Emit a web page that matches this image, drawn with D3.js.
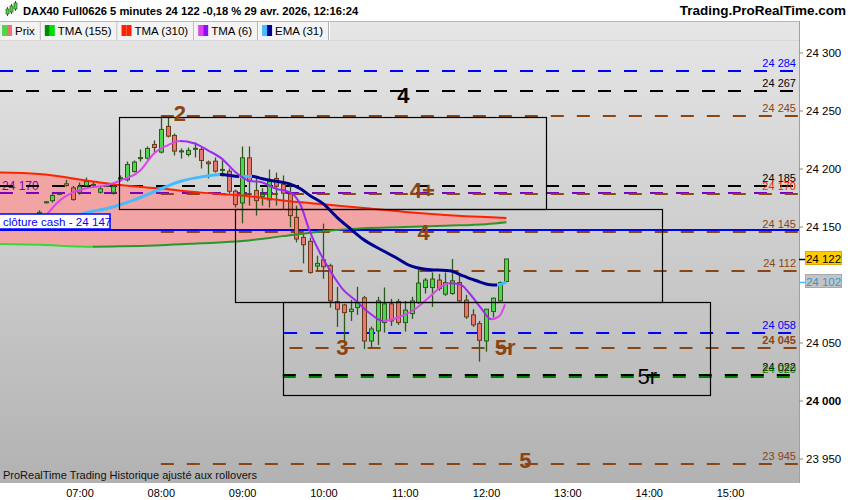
<!DOCTYPE html>
<html><head><meta charset="utf-8">
<script src="https://cdn.jsdelivr.net/npm/d3@7"></script>
<style>
body{margin:0;background:#fff;}
svg{display:block;font-family:"Liberation Sans",Arial,sans-serif;}
</style>
</head><body>
<svg id="c" width="850" height="500"></svg>
<script>
// ---------------- DATA ----------------
const times = ["06:30","06:35","06:40","06:45","06:50","06:55","07:00","07:05","07:10","07:15",
"07:20","07:25","07:30","07:35","07:40","07:45","07:50","07:55","08:00","08:05",
"08:10","08:15","08:20","08:25","08:30","08:35","08:40","08:45","08:50","08:55",
"09:00","09:05","09:10","09:15","09:20","09:25","09:30","09:35","09:40","09:45",
"09:50","09:55","10:00","10:05","10:10","10:15","10:20","10:25","10:30","10:35",
"10:40","10:45","10:50","10:55","11:00","11:05","11:10","11:15","11:20","11:25",
"11:30","11:35","11:40","11:45","11:50","11:55","12:00","12:05","12:10","12:15"];
const open  = [24161,24171,24172.3,24178,24186.8,24183.3,24179.5,24185.3,24186,24179.5,
24185.2,24179.5,24191.8,24190.2,24197.4,24209,24208.9,24220.7,24214.1,24236.3,
24228.5,24215,24212.1,24217.2,24216.4,24205.5,24206.3,24199,24197.7,24180.4,
24170.3,24209.2,24181,24176,24173,24191.4,24186.2,24178.1,24157.9,24140.6,
24137.2,24115.9,24121.3,24116.2,24085.3,24082.4,24076.7,24080.1,24088.5,24051.3,
24060,24067.2,24083.3,24085.3,24067.2,24074.9,24084.4,24097.4,24097.4,24103.8,
24091.7,24092.2,24101.7,24086.5,24073.8,24066.3,24051.3,24076.7,24085.9,24102.6];
const high  = [24164,24172,24178.4,24179,24190.2,24185,24187.9,24192.2,24188.8,24184.4,
24187,24186.2,24194,24206,24206.9,24216.4,24219,24224.2,24244.1,24244.1,
24230.2,24217.3,24218.1,24222.5,24218.1,24206.9,24209.5,24208.6,24200,24181.8,
24219,24219,24191.4,24183,24199.1,24196.5,24194,24187,24168,24143.8,
24140.4,24124.8,24152.5,24117.9,24098,24083.3,24086.8,24098,24090.2,24063.7,
24089.4,24097.4,24087.6,24087.6,24085.9,24089.4,24114.2,24105.5,24110.4,24109,
24110.4,24122,24109,24091.1,24078.7,24068.6,24079,24088.8,24102.6,24122];
const low   = [24159,24170,24170.6,24177,24184.4,24172.3,24177.5,24184.4,24183.6,24178.4,
24184,24177.5,24188.8,24188.8,24196.5,24206,24207.8,24213.8,24213,24226.8,
24211.2,24208.6,24210.4,24209.5,24200,24191.4,24196.5,24193.1,24178.4,24166.3,
24152.7,24168,24159.4,24168,24166.3,24168,24165,24149.3,24136.3,24118.2,
24109.2,24111.8,24104.9,24080.1,24063.4,24049.9,24068.6,24073.8,24044.4,24045.5,
24047.9,24058.5,24064.3,24065.2,24059.4,24070.3,24083.3,24092.2,24080.7,24094.6,
24090.2,24091.1,24084.2,24070.3,24063.4,24033.5,24042.1,24071.5,24084.2,24102];
const close = [24162.2,24171.3,24176.7,24178.5,24185.3,24173.2,24184.4,24188.8,24186.3,24182.5,
24185.4,24184.4,24192,24203.5,24205.5,24209.4,24217.3,24218.1,24233.7,24227.9,
24215,24215.2,24215.6,24217.4,24206.9,24204.1,24197.7,24199.2,24180.4,24168.9,
24209.2,24189,24172.3,24177.5,24189,24184.7,24178.7,24159.4,24139.2,24134.3,
24110.4,24118.2,24115.3,24085.9,24078.7,24075.8,24078.7,24084.4,24051.3,24061.7,
24085.9,24083.3,24068.6,24067.2,24077.9,24085.9,24101.2,24103.8,24104.7,24096.5,
24101.7,24103.2,24085.9,24072.1,24065.2,24051.9,24078.7,24088.2,24101.7,24122];

// moving averages (read at knots)
const tmaTimes = ["06:00","06:30","07:10","07:30","08:00","08:30","09:00","09:30","10:00","10:30","11:00","11:30","12:00","12:15"];
const tma310 = [24196.5,24195.2,24188.7,24185.7,24182.7,24179.2,24176.7,24172.5,24169.2,24165.9,24162.6,24160.0,24158.1,24157.4];
const tma155 = [24135.0,24134.2,24132.6,24132.9,24133.9,24135.6,24137.4,24141.7,24146.0,24148.6,24149.5,24150.7,24152.0,24153.6];
const tma6Times = ["06:35","06:45","06:55","07:05","07:20","07:30","07:45","07:55","08:05","08:14","08:25","08:35","08:45","08:55","09:05","09:15","09:25","09:35","09:43","09:50","09:57","10:05","10:14","10:24","10:34","10:44","10:56","11:09","11:19","11:28","11:33","11:41","11:48","11:56","12:04","12:10","12:14"];
const tma6 = [24159,24172,24179.5,24183,24185.5,24189.5,24198.5,24213,24220,24223.6,24221.5,24215.5,24208.5,24197,24189.5,24188,24182.5,24179.7,24169,24145.5,24128.3,24111.8,24096.3,24085.9,24075.4,24068.6,24072,24080,24090,24099,24101,24100,24092,24080,24070,24073,24083];
const emaTimes = ["06:50","07:02","07:22","07:39","07:57","08:14","08:31","08:44","08:58","09:07","09:15","09:25","09:35","09:43","09:50","10:00","10:10","10:20","10:29","10:44","10:54","11:04","11:14","11:24","11:33","11:43","11:53","12:03","12:08","12:15"];
const ema31 = [24154,24160.8,24166,24172.3,24181,24188.8,24193,24194.8,24193.0,24193.4,24191.1,24189,24186.8,24182.5,24176.7,24169.5,24157.9,24147.9,24139.2,24129.1,24122.8,24116.2,24113.3,24112.4,24111.9,24107.5,24103.2,24099.8,24099.6,24102];

// horizontal levels
const levelPrices = [24284,24267,24245,24185,24179,24178,24145,24112,24058,24045,24022,24020,23945];
const levelKinds  = ["blue","black","brown","black","purple","brown","brown","brown","blue","brown","black","green","brown"];
const levelStarts = ["06:00","06:00","08:00","06:00","06:00","08:00","08:00","09:35","09:31","09:35","09:30","09:30","08:00"];
const levelTexts  = ["24 284","24 267","24 245","24 185","","24 170","24 145","24 112","24 058","24 045","24 022","24 020","23 945"];
const levelTextKinds = ["blue","black","brown","black","purple","red","brown","brown","blue","brown","black","green","brown"];
const cashClose = 24147;
const cashText = "clôture cash -  24 147";
const leftLevelText = "24 170";

// zones (start, end, top, bottom)
const boxStarts = ["07:29","08:55","09:30"];
const boxEnds   = ["12:44","14:10","14:45"];
const boxTops   = [24244,24165,24085];
const boxBottoms= [24165,24085,24005];

// wave annotations
const noteTexts = ["2","4","4+","4","3","5r","5r","5"];
const noteTimes = ["08:14","10:59","11:13","11:14","10:14","12:14","13:59","12:29"];
const notePrices= [24248,24263.5,24181.5,24145.3,24046,24046,24021,23948.7];
const noteKinds = ["brown","blackBold","brown","brown","brown","brown","black","brown"];

// axes
const yTicks = [24300,24250,24200,24150,24050,24000,23950];
const xTickLabels = ["07:00","08:00","09:00","10:00","11:00","12:00","13:00","14:00","15:00"];
const lastPrice = 24122, emaLast = 24102;

const headerText = "DAX40 Full0626 5 minutes 24 122 -0,18 % 29 avr. 2026, 12:16:24";
const siteText = "Trading.ProRealTime.com";
const footerText = "ProRealTime Trading  Historique ajusté aux rollovers";
const legendNames = ["Prix","TMA (155)","TMA (310)","TMA (6)","EMA (31)"];

// ---------------- STYLES ----------------
const C = {blue:"#0000ff",black:"#000000",brown:"#8b4513",purple:"#7a00c2",green:"#008000",red:"#ff2200",
  blackBold:"#000000"};
const legendSw = [["#4fd64f","#e6786e"],["#008a00","#00e000"],["#ff2200","#ff2200"],["#e040f0","#8a10f0"],["#44bbff","#000090"]];

// ---------------- SCALES ----------------
const tm = s => { const p = s.split(":").map(Number); return p[0]*60+p[1]; };
const PR = 799, PT = 21, PB = 483;
const x = d3.scaleLinear().domain([361.34, 950.9]).range([0, PR]);
const y = d3.scaleLinear().domain([23950, 24300]).range([458.5, 52.5]);
const loc = d3.formatLocale({decimal:",", thousands:" ", grouping:[3], currency:["",""]});
const fmt = loc.format(",");

const svg = d3.select("#c");
const defs = svg.append("defs");
svg.append("rect").attr("width",850).attr("height",500).attr("fill","#fff");
const bg = defs.append("linearGradient").attr("id","bg").attr("x1",0).attr("x2",0).attr("y1",0).attr("y2",1);
bg.append("stop").attr("offset",0).attr("stop-color","#e6e6e6");
bg.append("stop").attr("offset",1).attr("stop-color","#b2b2b2");
svg.append("rect").attr("x",0).attr("y",PT).attr("width",PR).attr("height",PB-PT).attr("fill","url(#bg)");
defs.append("clipPath").attr("id","clip").append("rect").attr("x",0).attr("y",PT).attr("width",PR).attr("height",PB-PT);
const plot = svg.append("g").attr("clip-path","url(#clip)");

// pink band between TMA310 and TMA155
const band = tmaTimes.map((t,i)=>({t:tm(t), r:tma310[i], g:tma155[i]}));
plot.append("path").datum(band)
  .attr("d", d3.area().x(d=>x(d.t)).y0(d=>y(d.g)).y1(d=>y(d.r)).curve(d3.curveMonotoneX))
  .attr("fill","#f2a3a3");

// left purple text (under the dashed lines)
plot.append("text").attr("x",2).attr("y",y(24179)-3).attr("font-size",12).attr("fill",C.purple).text(leftLevelText);

// level lines
const levels = levelPrices.map((p,i)=>({p, k:levelKinds[i], s:tm(levelStarts[i]), txt:levelTexts[i], tk:levelTextKinds[i]}));
plot.selectAll("line.lvl").data(levels).join("line").attr("class","lvl")
  .attr("x1",d=>Math.max(0,x(d.s))).attr("x2",PR)
  .attr("y1",d=>Math.round(y(d.p))).attr("y2",d=>Math.round(y(d.p)))
  .attr("stroke",d=>C[d.k]).attr("stroke-width",2).attr("stroke-dasharray","13,13");
// cash close line
plot.append("line").attr("x1",0).attr("x2",PR).attr("y1",Math.round(y(cashClose))).attr("y2",Math.round(y(cashClose)))
  .attr("stroke","#0000ff").attr("stroke-width",2);

// candles
const candles = times.map((t,i)=>({t:tm(t), o:open[i], h:high[i], l:low[i], c:close[i]}));
const cg = plot.append("g");
cg.selectAll("line").data(candles).join("line")
  .attr("x1",d=>Math.round(x(d.t))+0.5).attr("x2",d=>Math.round(x(d.t))+0.5)
  .attr("y1",d=>y(d.h)).attr("y2",d=>y(d.l))
  .attr("stroke","#2d5a1b").attr("stroke-width",1.3);
cg.selectAll("rect").data(candles).join("rect")
  .attr("x",d=>Math.round(x(d.t))-1.5).attr("width",4)
  .attr("y",d=>y(Math.max(d.o,d.c)))
  .attr("height",d=>Math.max(1,Math.abs(y(d.o)-y(d.c))))
  .attr("fill",d=>d.c>=d.o?"#4fd64f":"#e6786e")
  .attr("stroke",d=>d.c>=d.o?"#2d5a1b":"#6a3a1e").attr("stroke-width",1);

// slope-coloured gradient
function slopeGrad(id, ts, vs, up, down){
  const g = defs.append("linearGradient").attr("id",id).attr("gradientUnits","userSpaceOnUse")
    .attr("x1",0).attr("x2",PR).attr("y1",0).attr("y2",0);
  for(let i=0;i<ts.length-1;i++){
    const col = vs[i+1]>=vs[i]?up:down;
    const o1 = Math.min(1,Math.max(0,x(tm(ts[i]))/PR)), o2 = Math.min(1,Math.max(0,x(tm(ts[i+1]))/PR));
    if(i===0) g.append("stop").attr("offset",0).attr("stop-color",col);
    g.append("stop").attr("offset",o1).attr("stop-color",col);
    g.append("stop").attr("offset",o2).attr("stop-color",col);
    if(i===ts.length-2) g.append("stop").attr("offset",1).attr("stop-color",col);
  }
  return "url(#"+id+")";
}
function maLine(ts, vs, stroke, w){
  const pts = ts.map((t,i)=>[x(tm(t)), y(vs[i])]);
  plot.append("path").attr("d", d3.line().curve(d3.curveMonotoneX)(pts))
    .attr("fill","none").attr("stroke",stroke).attr("stroke-width",w).attr("stroke-linejoin","round");
}
maLine(tmaTimes, tma310, "#ff2200", 2);
maLine(tmaTimes, tma155, slopeGrad("g155", tmaTimes, tma155, "#2a962a", "#38d838"), 2);
maLine(emaTimes, ema31, slopeGrad("gema", emaTimes, ema31, "#44bbff", "#000090"), 3);
maLine(tma6Times, tma6, slopeGrad("g6", tma6Times, tma6, "#dd44ee", "#9a2cf0"), 2);

// zone boxes
const boxes = boxStarts.map((s,i)=>({s:tm(s), e:tm(boxEnds[i]), t:boxTops[i], b:boxBottoms[i]}));
plot.selectAll("rect.box").data(boxes).join("rect").attr("class","box")
  .attr("x",d=>Math.round(x(d.s))+0.5).attr("y",d=>Math.round(y(d.t))+0.5)
  .attr("width",d=>Math.round(x(d.e)-x(d.s))).attr("height",d=>Math.round(y(d.b)-y(d.t)))
  .attr("fill","none").attr("stroke","#000").attr("stroke-width",1.2);

// wave annotations
const notes = noteTexts.map((t,i)=>({t, tt:tm(noteTimes[i]), p:notePrices[i], k:noteKinds[i]}));
plot.selectAll("text.note").data(notes).join("text").attr("class","note")
  .attr("x",d=>x(d.tt)).attr("y",d=>y(d.p)+8).attr("text-anchor","middle")
  .attr("font-size",22).attr("font-weight",d=>d.k==="black"?"normal":"bold")
  .attr("fill",d=>C[d.k]).text(d=>d.t);

// right level labels
plot.selectAll("text.lv").data(levels.filter(d=>d.txt)).join("text").attr("class","lv")
  .attr("x",796).attr("y",d=>Math.round(y(d.p))-4).attr("text-anchor","end")
  .attr("font-size",11).attr("font-weight",d=>d.txt==="24 045"?"bold":"normal")
  .attr("fill",d=>C[d.tk]).text(d=>d.txt);

// cash label box
const cy = Math.round(y(cashClose));
plot.append("rect").attr("x",-1).attr("y",cy-16).attr("width",111).attr("height",15)
  .attr("fill","#fff").attr("stroke","#0000ff").attr("stroke-width",1.5);
plot.append("text").attr("x",3).attr("y",cy-4.5).attr("font-size",11.6).attr("fill","#0000ff").text(cashText);

// footer
plot.append("text").attr("x",3).attr("y",PB-4).attr("font-size",11).attr("fill","#111").text(footerText);

// ---------------- AXES ----------------
svg.append("line").attr("x1",PR+0.5).attr("x2",PR+0.5).attr("y1",PT).attr("y2",PB).attr("stroke","#a0a0a0");
const ya = svg.append("g").attr("transform",`translate(${PR},0)`)
  .call(d3.axisRight(y).tickValues(yTicks).tickSize(4).tickSizeOuter(0).tickPadding(3).tickFormat(fmt));
ya.select(".domain").remove();
ya.selectAll(".tick line").attr("stroke","#888");
ya.selectAll(".tick text").attr("font-size",11.5).attr("fill","#000").attr("font-family","'Liberation Sans',Arial,sans-serif")
  .attr("font-weight",d=>d===24000?"bold":"normal");

const xa = svg.append("g").attr("transform",`translate(0,${PB})`)
  .call(d3.axisBottom(x).tickValues(xTickLabels.map(tm)).tickSize(0).tickPadding(6).tickFormat((d,i)=>xTickLabels[i]));
xa.select(".domain").remove();
xa.selectAll(".tick text").attr("font-size",11).attr("fill","#000").attr("font-family","'Liberation Sans',Arial,sans-serif");

// price tags
function tag(price, fill, stroke, txtCol, tickCol){
  const ty = Math.round(y(price));
  svg.append("line").attr("x1",PR).attr("x2",806).attr("y1",ty+0.5).attr("y2",ty+0.5).attr("stroke",tickCol).attr("stroke-width",1.5);
  svg.append("rect").attr("x",805.5).attr("y",ty-7.5).attr("width",36).attr("height",13).attr("fill",fill).attr("stroke",stroke);
  svg.append("text").attr("x",823.5).attr("y",ty+3.5).attr("text-anchor","middle").attr("font-size",11.5).attr("fill",txtCol).text(fmt(price));
}
tag(emaLast, "#c4c4c4", "#a8a8a8", "#2a9ad8", "#44bbff");
tag(lastPrice, "#ffcc00", "#e0a800", "#000", "#000");

// ---------------- HEADER & LEGEND ----------------
const ic = svg.append("g");
[[6,9,5],[10,6,6],[14,3,6]].forEach(a=>{
  ic.append("line").attr("x1",a[0]+1.5).attr("x2",a[0]+1.5).attr("y1",a[1]-2).attr("y2",a[1]+a[2]+2).attr("stroke","#2d5a1b");
  ic.append("rect").attr("x",a[0]).attr("y",a[1]).attr("width",3).attr("height",a[2]).attr("fill","#4fd64f").attr("stroke","#2d5a1b").attr("stroke-width",0.7);
});
svg.append("text").attr("x",23).attr("y",15).attr("font-size",11.2).attr("font-weight","bold").attr("fill","#000").text(headerText);
svg.append("text").attr("x",846).attr("y",15).attr("text-anchor","end").attr("font-size",13.5).attr("font-weight","bold").attr("fill","#000").text(siteText);

svg.append("line").attr("x1",0).attr("x2",PR).attr("y1",21.5).attr("y2",21.5).attr("stroke","#b8b8b8");
let lx = 0;
legendNames.forEach((n,i)=>{
  const g = svg.append("g");
  const r = g.append("rect").attr("x",lx+0.5).attr("y",22).attr("height",18).attr("fill","#f3f3f3");
  const sx = i===0 ? lx+2 : lx+4;
  g.append("rect").attr("x",sx).attr("y",25).attr("width",5).attr("height",11).attr("fill",legendSw[i][0]);
  g.append("rect").attr("x",sx+5).attr("y",25).attr("width",5).attr("height",11).attr("fill",legendSw[i][1]);
  const t = g.append("text").attr("x",sx+13).attr("y",35).attr("font-size",11.5).attr("fill","#000").text(n);
  const w = t.node().getComputedTextLength();
  const tw = (sx-lx) + 13 + w + 5;
  r.attr("width",tw);
  g.append("line").attr("x1",lx+tw+0.5).attr("x2",lx+tw+0.5).attr("y1",22).attr("y2",40).attr("stroke","#b0b0b0");
  g.append("line").attr("x1",lx+tw+1.5).attr("x2",lx+tw+1.5).attr("y1",22).attr("y2",40).attr("stroke","#ffffff");
  lx += tw + 1;
});
svg.append("line").attr("x1",0).attr("x2",PR).attr("y1",40.5).attr("y2",40.5).attr("stroke","#d0d0d0").attr("stroke-opacity",0.6);
</script>
</body></html>
